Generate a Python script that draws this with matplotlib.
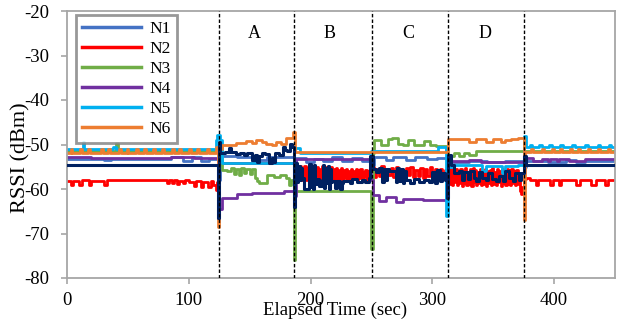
import numpy as np
import matplotlib
matplotlib.use("Agg")
import matplotlib.pyplot as plt

plt.rcParams['font.family'] = ['Liberation Serif', 'DejaVu Serif']
plt.rcParams['axes.unicode_minus'] = False

# ---------------- data (time in s, RSSI in dBm) ----------------
N1 = [(0, -53.2), (30, -53.5), (36, -53.2), (85, -52.8), (95, -53.6), (103, -52.9), (110, -53.7),
      (117, -53.3), (124, -58.0), (126, -52.6), (140, -52.9), (152, -53.9), (158, -53.4), (164, -52.7),
      (186, -55.0), (188, -53.1), (196, -53.9), (203, -53.2), (210, -53.8), (218, -52.9), (226, -53.6),
      (234, -53.1), (242, -53.8), (250, -54.5), (252, -52.9), (262, -53.4), (268, -52.8), (278, -53.5),
      (286, -52.9), (296, -53.3), (304, -53.0), (312, -55.0), (314, -53.9), (330, -53.6), (345, -54.0),
      (360, -53.7), (375, -55.0), (377, -53.6), (395, -53.9), (410, -53.5), (418, -53.9), (425, -53.6),
      (450, -53.6)]

N2_pre = [(0, -58.3), (3, -59.0), (5, -58.2), (10, -59.0), (12, -58.0), (18, -59.0), (20, -58.1),
          (30, -59.0), (33, -58.0), (82, -58.6), (84, -57.9), (86, -58.7), (88, -58.0), (90, -58.8),
          (92, -58.1), (95, -58.7), (97, -58.0), (100, -58.5), (104, -59.3), (106, -58.3), (110, -59.5),
          (112, -58.4), (116, -59.6), (118, -58.2), (120, -59.0), (122, -60.3), (123, -58.5),
          (124, -54.2), (126, -54.2)]
N2_B_t = list(range(186, 250))
N2_B_v = [-56.0, -55.0, -57.8, -55.3, -57.5, -54.8, -58.0, -55.5, -57.6, -54.9,
          -57.9, -55.2, -57.4, -55.0, -58.0, -55.6, -57.7, -54.8, -57.9, -55.1,
          -57.5, -55.4, -58.0, -54.9, -57.8, -55.3, -57.6, -55.0, -57.9, -55.5,
          -57.4, -55.1, -58.0, -55.6, -57.7, -55.2, -57.9, -55.8, -57.5, -55.3,
          -57.9, -55.7, -57.6, -55.4, -58.0, -55.9, -57.7, -55.5, -57.8, -56.0,
          -57.5, -55.6, -57.9, -55.8, -57.6, -55.5, -57.8, -56.1, -57.4, -55.7,
          -57.9, -55.9, -57.6, -56.2]
N2_C_t = list(range(250, 312, 2))
N2_C_v = [-55.0, -57.3, -55.4, -57.0, -54.8, -57.5, -55.6, -56.9, -55.2, -57.4,
          -55.0, -57.2, -55.7, -57.5, -55.3, -56.8, -55.1, -57.4, -55.8, -57.1,
          -55.2, -57.5, -55.5, -57.0, -55.0, -57.3, -55.6, -57.2, -55.4, -57.5, -55.8]
N2_D_t = list(range(312, 375))
N2_D_v = [-57.0, -55.6, -58.8, -55.3, -59.2, -55.8, -58.5, -55.4, -59.0, -56.0,
          -58.7, -55.5, -59.3, -55.9, -58.6, -55.3, -59.1, -56.1, -58.8, -55.6,
          -59.4, -55.2, -58.5, -55.8, -59.0, -56.2, -58.7, -55.5, -59.2, -55.9,
          -58.9, -55.4, -59.3, -56.0, -58.6, -55.7, -59.1, -55.3, -58.8, -56.1,
          -59.0, -55.6, -58.5, -55.9, -59.4, -55.4, -58.7, -56.2, -59.1, -55.5,
          -58.9, -55.8, -59.2, -55.6, -58.6, -56.0, -59.0, -55.7, -58.8, -56.3,
          -60.5, -61.2, -59.5]
N2_post = [(375, -57.8), (377, -57.5), (380, -58.0), (385, -59.0), (387, -58.0), (397, -59.0),
           (399, -58.0), (404, -59.0), (406, -58.0), (418, -59.0), (421, -58.0), (430, -59.0),
           (434, -58.0), (442, -59.0), (444, -58.0), (450, -58.0)]

N3 = [(0, -51.5), (40, -49.6), (41.5, -51.5), (125, -51.5), (127, -55.8), (131, -56.0), (135, -55.3),
      (137, -56.6), (139, -55.4), (141, -56.8), (143, -55.2), (145, -56.5), (147, -55.5), (150, -56.7),
      (152, -55.6), (154, -57.5), (156, -58.2), (158, -58.6), (164, -56.9), (170, -57.2), (175, -56.8),
      (180, -57.6), (182, -59.0), (184, -58.0), (186, -76.0), (187, -60.5), (250, -73.5), (251, -52.0),
      (252, -48.9), (258, -50.0), (263.5, -48.7), (267, -48.5), (271.5, -49.8), (276, -50.2),
      (280, -48.9), (285, -50.0), (293.5, -49.3), (298, -50.0), (303, -50.3), (311, -51.5),
      (313, -52.5), (318, -52.0), (322, -52.6), (326, -51.8), (330, -52.4), (336, -51.5), (450, -51.5)]

N4 = [(0, -52.7), (20, -53.1), (85, -52.7), (104, -53.1), (124, -58.0), (125, -64.5), (127, -62.0),
      (140, -61.2), (152, -60.8), (178, -60.5), (186, -61.5), (188, -53.3), (250, -58.0), (251, -61.3),
      (256, -62.6), (262, -61.8), (270, -62.9), (276, -62.2), (292, -62.5), (311, -58.0), (312, -53.8),
      (330, -53.5), (340, -53.9), (375, -53.0), (383, -53.7), (390, -53.2), (395, -53.8), (397, -53.2),
      (402, -53.8), (404, -53.2), (412, -53.8), (425, -53.2), (450, -53.2)]

N5 = [(0, -50.9), (13, -49.4), (14, -50.9), (38, -50.6), (40, -50.9), (122, -49.0), (123, -47.8),
      (126, -49.0), (127, -54.2), (186, -50.8), (191, -51.9), (250, -51.5), (305, -50.6), (311, -66.0),
      (313, -55.0), (318, -54.7), (341, -56.0), (344, -54.8), (357, -56.5), (360, -54.8), (370, -54.5),
      (375, -48.0), (377, -50.5), (380, -50.0), (382, -50.6), (388, -50.0), (390, -50.6), (396, -50.0),
      (398, -50.6), (405, -50.0), (407, -50.6), (415, -50.0), (417, -50.6), (425, -50.1), (428, -50.6),
      (436, -50.0), (438, -50.6), (445, -50.0), (447, -50.6), (450, -50.6)]

N6 = [(0, -51.8), (3, -51.0), (4.5, -51.8), (11, -51.0), (12.5, -51.8), (17, -51.0), (18.5, -51.8),
      (28, -51.0), (29.5, -51.8), (34, -51.0), (35.5, -51.8), (43, -51.0), (44.5, -51.8), (49, -51.0),
      (50.5, -51.8), (57, -51.0), (58.5, -51.8), (63, -51.0), (64.5, -51.8), (71, -51.0), (72.5, -51.8),
      (78, -51.0), (79.5, -51.8), (86, -51.0), (87.5, -51.8), (92, -51.0), (93.5, -51.8), (100, -51.0),
      (101.5, -51.8), (107, -51.0), (108.5, -51.8), (115, -51.0), (116.5, -51.8), (122, -50.5),
      (124, -68.5), (125, -51.0), (127, -50.2), (138.5, -49.6), (147, -49.2), (152, -49.6), (155, -49.0),
      (160, -49.4), (163.5, -49.9), (168, -50.2), (172, -49.4), (176, -49.8), (180, -48.5),
      (185.5, -47.3), (187, -51.6), (313, -48.7), (330, -49.4), (336, -48.8), (344, -49.5),
      (349.5, -48.8), (356, -49.5), (360, -49.0), (365, -48.8), (370, -48.5), (375, -67.0),
      (376, -51.6), (381, -51.0), (382.5, -51.6), (390, -51.0), (391.5, -51.6), (398, -51.0),
      (399.5, -51.6), (405, -51.0), (406.5, -51.6), (413, -51.0), (414.5, -51.6), (420, -51.0),
      (421.5, -51.6), (428, -51.0), (429.5, -51.6), (436, -51.0), (437.5, -51.6), (444, -51.0),
      (445.5, -51.6), (450, -51.6)]

N7 = [(0, -54.6), (124, -66.5), (125, -49.5), (126, -51.8), (130, -51.6), (133, -50.8), (135, -51.7),
      (139, -52.2), (142, -51.9), (145, -52.4), (148, -52.0), (152, -53.5), (154, -52.3), (156, -54.0),
      (158, -52.6), (160, -51.8), (163, -52.2), (166, -54.2), (168, -53.0), (170, -54.0), (171, -52.0),
      (174, -52.3), (177, -50.6), (179, -51.2), (181, -51.5), (183, -49.8), (185, -50.5), (186, -64.0),
      (187, -56.0), (188, -54.2), (189, -58.4), (190, -54.8), (191, -58.0), (192, -55.3), (193, -57.5),
      (195, -60.0), (199, -54.4), (200, -59.5), (201, -55.0), (202, -60.0), (203, -54.6), (204, -58.8),
      (205, -57.8), (207, -59.3), (209, -58.0), (210, -54.5), (211, -59.8), (212, -55.2), (213, -58.7),
      (214, -54.8), (215, -60.1), (216, -55.6), (217, -58.4), (218, -58.2), (220, -59.8), (222, -58.3),
      (224, -60.0), (226, -58.6), (227, -58.2), (232, -58.6), (234, -57.8), (238, -58.4), (242, -57.9),
      (245, -58.5), (248, -57.6), (249, -52.5), (251, -55.5), (254, -56.2), (256, -55.3), (259, -58.4),
      (260, -55.4), (262, -58.0), (263, -55.6), (264.5, -55.9), (270, -58.5), (271, -55.2), (273, -58.2),
      (274, -55.5), (276, -58.6), (277, -56.0), (278, -58.0), (282, -58.7), (285, -57.8), (289, -58.4),
      (293, -58.0), (297, -58.5), (300, -56.2), (302, -58.6), (304, -55.8), (306, -58.3), (308, -56.5),
      (310, -58.0), (311, -57.0), (312, -62.0), (313, -52.3), (315, -54.5), (318, -56.5), (322, -56.0),
      (324, -58.0), (326, -56.2), (329, -57.8), (331, -56.0), (334, -57.5), (336, -58.2), (338, -56.1),
      (341, -57.6), (344, -58.0), (346, -56.4), (349, -57.8), (352, -58.2), (355, -57.0), (358, -58.3),
      (360, -56.0), (363, -57.6), (366, -58.2), (368, -56.4), (371, -58.0), (373, -56.5), (375, -52.5),
      (377, -54.6), (450, -54.6)]

series_names = ["N1", "N2", "N3", "N4", "N5", "N6"]
series_colors = ["#4472C4", "#FF0000", "#70AD47", "#7030A0", "#00B0F0", "#ED7D31"]
extra_color = "#002060"

phase_bounds = [124.5, 186.5, 250.5, 312.7, 375.5]
phase_labels = ["A", "B", "C", "D"]
phase_label_x = [154, 215.5, 280, 343]

x_ticks = [0, 100, 200, 300, 400]
y_ticks = [-80, -70, -60, -50, -40, -30, -20]

# ---------------- build ----------------
def split(pairs):
    t, v = zip(*pairs)
    return list(t), list(v)

n2_t0, n2_v0 = split(N2_pre)
n2_t1, n2_v1 = split(N2_post)
N2_t = n2_t0 + N2_B_t + N2_C_t + N2_D_t + n2_t1
N2_v = n2_v0 + N2_B_v + N2_C_v + N2_D_v + n2_v1

data = [split(N1), (N2_t, N2_v), split(N3), split(N4), split(N5), split(N6)]

fig = plt.figure(figsize=(6.28, 3.22), dpi=100)
ax = fig.add_axes([67/628, 1 - 278/322, (615 - 67)/628, (278 - 11)/322])

for (t, v), name, c in zip(data, series_names, series_colors):
    ax.plot(t, v, drawstyle='steps-post', color=c, lw=2.0, label=name, zorder=2)
t7, v7 = split(N7)
ax.plot(t7, v7, drawstyle='steps-post', color=extra_color, lw=2.2, label='_nolegend_', zorder=3)

for xb in phase_bounds:
    ax.axvline(xb, color='black', ls=(0, (2.5, 1.5)), lw=1.0, zorder=4)
for lab, xl in zip(phase_labels, phase_label_x):
    ax.text(xl, -25, lab, ha='center', va='center', fontsize=13)

ax.set_xlim(0, 450)
ax.set_ylim(-80, -20)
ax.set_xticks(x_ticks)
ax.set_xticklabels([str(v) for v in x_ticks])
ax.set_yticks(y_ticks)
ax.set_yticklabels([str(v) for v in y_ticks])

for s in ax.spines.values():
    s.set_color('#A6A6A6')
    s.set_linewidth(1.3)
ax.tick_params(direction='out', length=4, color='#A6A6A6', labelsize=13.5, width=1.2)
ax.tick_params(axis='y', pad=9)
ax.tick_params(axis='x', pad=6)

ax.set_xlabel('Elapsed Time (sec)', fontsize=13.5)
ax.xaxis.set_label_coords(0.49, -0.088)
ax.set_ylabel('RSSI (dBm)', fontsize=16)
ax.yaxis.set_label_coords(-0.066, 0.45)

leg = ax.legend(loc='upper left', bbox_to_anchor=(0.016, 0.985), frameon=True, fancybox=False,
                edgecolor='#7F7F7F', fontsize=12.5, handlelength=3.4, labelspacing=0.22,
                borderpad=0.35, handletextpad=0.5, borderaxespad=0)
leg.get_frame().set_linewidth(2.0)
for ln in leg.get_lines():
    ln.set_linewidth(2.5)

fig.savefig('out.png', dpi=100)
